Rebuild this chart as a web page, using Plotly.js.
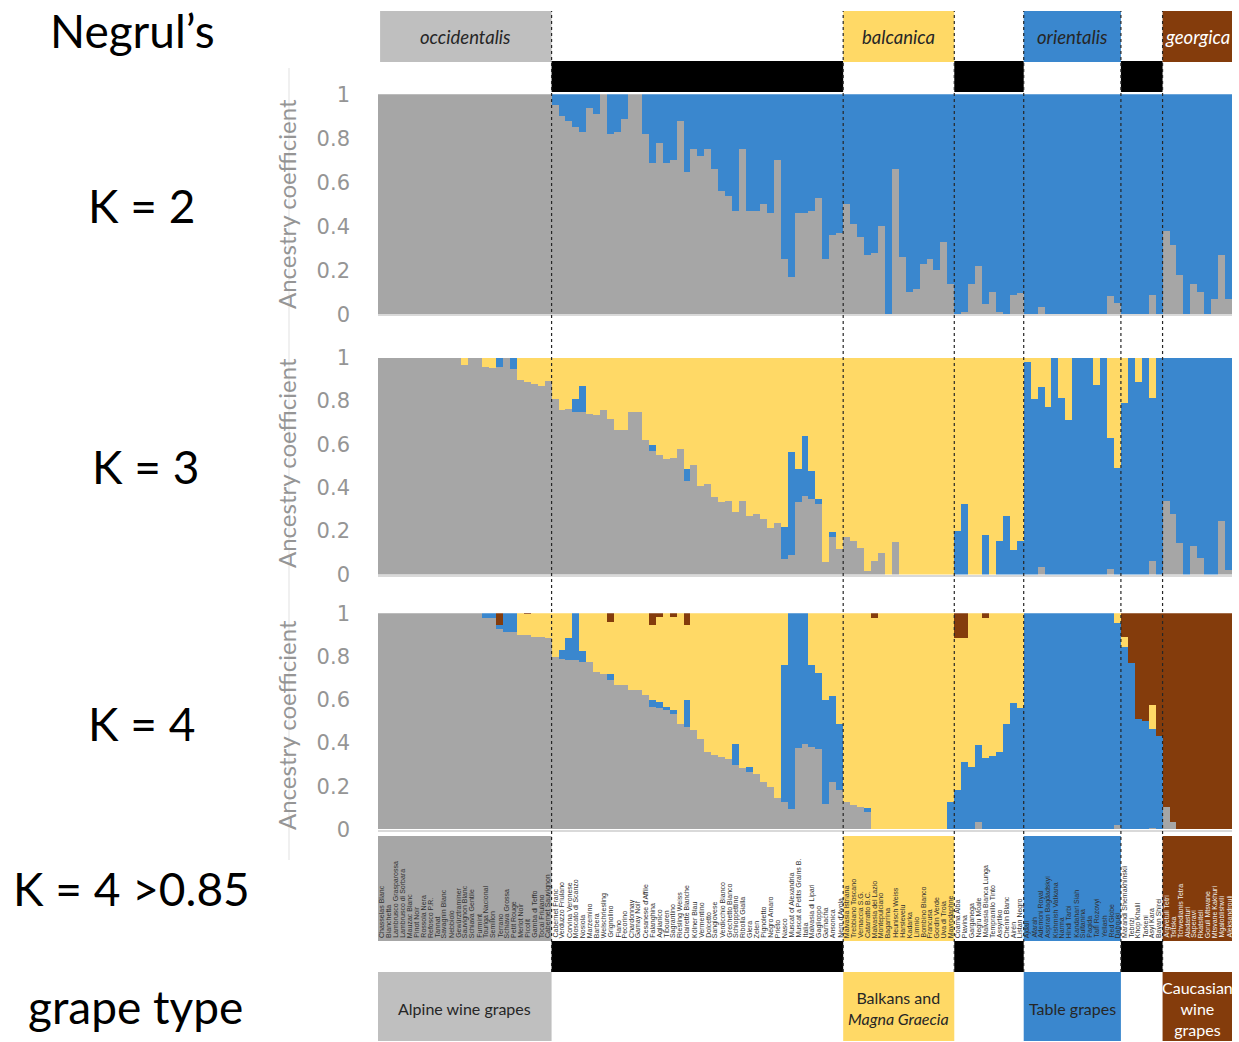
<!DOCTYPE html>
<html>
<head>
<meta charset="utf-8">
<script src="https://cdn.plot.ly/plotly-3.0.1.min.js"></script>
<style>
  html, body { margin: 0; padding: 0; background: #ffffff; }
  #chart { width: 1239px; height: 1042px; }
</style>
</head>
<body>
<div id="chart"></div>
<script>
// ---- Accessions, in plotting order ----
const samples = [
  // occidentalis
  "Chasselas Blanc","Bianchetta","Lambrusco Grasparossa","Lambrusco di Sorbara","Mauzac Blanc",
  "Pinot Noir","Rossola Nera","Refosco P.R.","Tannat","Savagnin Blanc","Nebbiolo","Gewürztraminer",
  "Sauvignon Blanc","Schiava Gentile","Furmint","Touriga Nacional","Semillon","Terrano",
  "Schiava Grossa","Petit Rouge","Merlot Noir","Picolit","Gamba di Teffo","Tocai Friulano",
  "Cabernet Sauvignon",
  // unassigned
  "Cabernet Franc","Verduzzo Friulano","Corvina Veronese","Moscato di Scanzo","Nosiola","Marzemino",
  "Barbera","Welschriesling","Grignolino","Fiano","Pecorino","Chardonnay","Gamay Noir",
  "Cesanese d'Affile","Falanghina","Aglianico","Tibouren","Sagrantino","Riesling Weiss",
  "Clairette Blanche","Kölner Blau","Vermentino","Dolcetto","Sangiovese","Verdicchio Bianco",
  "Grechetto Bianco","Schioppettino","Ribolla Gialla","Glera","Zelen","Pignoletto","Negro Amaro",
  "Prieto","Nasco","Muscat of Alexandria","Muscat a Petits Grains B.","Italia","Malvasia di Lipari",
  "Gaglioppo","Garnacha","Ansonica","Nero d'Avola",
  // balcanica
  "Malvasia Istriana","Trebbiano Toscano","Vernaccia S.G.","Catarratto B.C.","Malvasia del Lazio",
  "Montepulciano","Bagarrina","Heunisch Weiss","Harslevelu","Kadarka","Limnio","Bombino Bianco",
  "Francusa","Gordin Verde","Uva di Troia","Mavrodaphne",
  // unassigned
  "Coarna Alba","Plavina","Garganega","Negru Moale","Malvasia Bianca Lunga","Tempranillo Tinto",
  "Assyrtiko","Chenin Blanc","Airén","Listan Negro",
  // orientalis
  "Ajdali","Afarah","Ademoni Royal","Aspiran Bagdadskyi","Kishmish Vatkana","Narma","Hindi Tarbi",
  "Kandahari Siah","Sultanina","Pagida","Taifi Rozovyi","Yellash","Red Globe","Dabouki",
  // unassigned
  "Marandi Shemakhinskii","Tebrizi","Khop Khalil","Tarkeni","Asyl Kara","Bayan Shirei",
  // georgica
  "Argvetuli Tetri","Tsitska","Tchvedianis Tetra","Aladasturi","Saperavi","Rkatsiteli",
  "Goruli Mtsvane","Mtsvane Kakhuri","Mgaloblishvili","Aleksandrouli"
];

// Negrul's groups (null = not assigned) and the grape type under each
const groupNames = ["occidentalis", null, "balcanica", null, "orientalis", null, "georgica"];
const groupSizes = [25, 42, 16, 10, 14, 6, 10];
const grapeTypes = ["Alpine wine grapes", null, "Balkans and<br><i>Magna Graecia</i>", null,
                    "Table grapes", null, "Caucasian<br>wine<br>grapes"];

// ---- Ancestry coefficients ----
// K = 2 : grey cluster (blue takes the rest)
const k2Gray = [
  1,1,1,1,1,1,1,1,1,1,1,1,1,1,1,1,1,1,1,1,1,1,1,1,1,
  0.95,0.90,0.88,0.85,0.83,0.94,0.91,1.00,0.82,0.83,0.89,1.00,1.00,0.82,0.69,0.78,0.69,0.70,
  0.88,0.645,0.75,0.72,0.75,0.66,0.56,0.54,0.47,0.75,0.47,0.47,0.50,0.46,0.70,0.25,0.17,0.46,
  0.46,0.47,0.53,0.25,0.36,0.37,
  0.50,0.41,0.35,0.27,0.28,0.40,0.00,0.66,0.26,0.10,0.115,0.23,0.25,0.20,0.33,0.14,
  0.00,0.012,0.14,0.22,0.045,0.10,0.012,0.00,0.09,0.095,
  0,0,0.035,0,0,0,0,0,0,0,0,0,0.083,0.05,
  0,0,0,0,0.09,0,
  0.38,0.315,0.18,0,0.14,0.10,0,0.07,0.27,0.07
];

// K = 3 : grey and blue clusters (yellow takes the rest)
const k3Gray = [
  1,1,1,1,1,1,1,1,1,1,1,1,0.965,1,1,0.957,0.95,0.957,1,0.945,0.895,0.888,0.88,0.87,0.89,
  0.81,0.76,0.765,0.75,0.75,0.74,0.734,0.757,0.718,0.668,0.665,0.75,0.75,0.62,0.57,0.55,0.534,
  0.538,0.577,0.43,0.503,0.406,0.418,0.357,0.334,0.337,0.29,0.34,0.27,0.277,0.254,0.215,0.238,
  0.072,0.088,0.334,0.36,0.349,0.323,0.057,0.172,0.118,
  0.175,0.154,0.123,0.015,0.06,0.10,0,0.15,0,0,0,0,0,0,0,0,
  0,0,0,0,0,0,0,0,0,0,
  0,0,0.034,0,0,0,0,0,0,0,0,0,0.026,0,
  0,0,0,0,0.06,0,
  0.34,0.28,0.145,0,0.13,0.077,0,0,0.245,0.02
];
const k3Blue = [
  0,0,0,0,0,0,0,0,0,0,0,0,0,0,0,0,0,0.043,0,0.055,0,0,0,0,0,
  0,0,0,0.06,0.12,0,0,0,0,0,0,0,0,0,0.026,0,0,0,0,0.058,0,0,0,0,0,0,0,0,0,0,0,0,0,
  0.146,0.477,0.154,0.277,0.128,0.026,0,0.023,0,
  0,0,0,0,0,0,0,0,0,0,0,0,0,0,0,0,
  0.2,0.326,0,0,0.183,0,0.154,0.27,0.115,0.154,
  0.98,0.81,0.831,0.77,1,0.814,0.71,1,1,1,0.872,1,0.604,0.49,
  0.79,1,0.885,1,0.754,1,
  0.66,0.72,0.855,1,0.87,0.923,1,1,0.755,0.98
];

// K = 4 : grey, blue and brown clusters (yellow takes the rest)
const k4Gray = [
  1,1,1,1,1,1,1,1,1,1,1,1,1,1,1,0.977,0.977,0.926,0.915,0.915,0.9,0.9,0.89,0.89,0.884,
  0.80,0.79,0.784,0.784,0.776,0.776,0.73,0.72,0.69,0.668,0.668,0.645,0.645,0.62,0.567,0.56,
  0.552,0.536,0.49,0.474,0.459,0.42,0.359,0.346,0.335,0.325,0.297,0.284,0.266,0.258,0.22,0.196,
  0.145,0.127,0.096,0.377,0.397,0.382,0.374,0.119,0.219,0.181,
  0.127,0.111,0.104,0.08,0,0,0,0,0,0,0,0,0,0,0,0,
  0,0,0,0.034,0,0,0,0,0,0,
  0,0,0,0,0,0,0,0,0,0,0,0,0,0.02,
  0,0,0,0,0.006,0,
  0.104,0.034,0,0,0,0,0,0,0,0
];
const k4Blue = [
  0,0,0,0,0,0,0,0,0,0,0,0,0,0,0,0.023,0.023,0.02,0.085,0.085,0,0,0,0,0,
  0,0.04,0.1,0.216,0.05,0,0,0,0.03,0,0,0,0,0,0.03,0.03,0.015,0.015,0,0.124,0,0,0,0,0,0,0.1,0,
  0.023,0,0,0,0,0.634,0.904,0.623,0.603,0.379,0.348,0.479,0.399,0.309,
  0,0,0,0.019,0,0,0,0,0,0,0,0,0,0,0,0.127,
  0.181,0.312,0.289,0.356,0.331,0.34,0.359,0.49,0.583,0.56,
  1,1,1,1,1,1,1,1,1,1,1,1,1,0.934,
  0.846,0.768,0.513,0.5,0.458,0.431,
  0,0,0,0,0,0,0,0,0,0
];
const k4Brown = [
  0,0,0,0,0,0,0,0,0,0,0,0,0,0,0,0,0,0.054,0,0,0,0.005,0,0,0,
  0,0,0,0,0,0,0,0,0.04,0,0,0,0,0,0.054,0.015,0,0.015,0,0.054,0,0,0,0,0,0,0,0,0,0,0,0,0,
  0,0,0,0,0,0,0,0,0,
  0,0,0,0,0.023,0,0,0,0,0,0,0,0,0,0,0,
  0.116,0.116,0,0,0.023,0,0,0,0,0,
  0,0,0,0,0,0,0,0,0,0,0,0,0,0,
  0.108,0.232,0.487,0.5,0.425,0.569,
  0.896,0.966,1,1,1,1,1,1,1,1
];

// ---- styling ----
const C = { gray: "#A6A6A6", blue: "#3A87CE", yellow: "#FFD966", brown: "#843C0C",
            boxGray: "#BFBFBF", axisText: "#959595" };
const W = 1239, H = 1042;
const py = p => 1 - p / H;           // pixel row -> paper y
const pxX = p => p / W;              // pixel column -> paper x
const FONT = "Lato, 'Open Sans', sans-serif";

const rest = (...parts) => parts[0].map((_, i) =>
  Math.max(0, +(1 - parts.reduce((s, a) => s + a[i], 0)).toFixed(4)));

const k2Blue = rest(k2Gray);
const k3Yellow = rest(k3Gray, k3Blue);
const k4Yellow = rest(k4Gray, k4Blue, k4Brown);

const idx = samples.map((_, i) => i);
const bar = (y, color, xa, ya) => ({
  type: "bar", x: idx, y: y, xaxis: xa, yaxis: ya,
  marker: { color: color, line: { width: 0 } }, hoverinfo: "skip"
});

const data = [
  bar(k2Gray, C.gray, "x", "y"), bar(k2Blue, C.blue, "x", "y"),
  bar(k3Gray, C.gray, "x2", "y2"), bar(k3Blue, C.blue, "x2", "y2"), bar(k3Yellow, C.yellow, "x2", "y2"),
  bar(k4Gray, C.gray, "x3", "y3"), bar(k4Blue, C.blue, "x3", "y3"),
  bar(k4Yellow, C.yellow, "x3", "y3"), bar(k4Brown, C.brown, "x3", "y3")
];

// ---- axes ----
const xDomain = [pxX(378), pxX(1232)];
const xAxis = anchor => ({
  domain: xDomain, range: [-0.5, samples.length - 0.5], anchor: anchor,
  showticklabels: false, ticks: "", showgrid: false, zeroline: false,
  showline: true, linecolor: "#D9D9D9", linewidth: 2, fixedrange: true
});
const yAxis = (top, bottom, anchor) => ({
  domain: [py(bottom), py(top)], range: [0, 1], anchor: anchor,
  tickvals: [0, 0.2, 0.4, 0.6, 0.8, 1], ticktext: ["0", "0.2", "0.4", "0.6", "0.8", "1"],
  tickfont: { family: "'DejaVu Sans', sans-serif", size: 21, color: C.axisText },
  ticks: "", ticklabelstandoff: 27, showgrid: false, zeroline: false, showline: false,
  fixedrange: true
});

// ---- group geometry (in bar units) ----
const bounds = [];
let acc = 0;
groupSizes.forEach(n => { bounds.push([acc - 0.5, acc + n - 0.5]); acc += n; });

const shapes = [];
const annotations = [];
const rect = (x0, x1, y0, y1, color) => shapes.push({
  type: "rect", xref: "x3", yref: "paper", x0: x0, x1: x1, y0: py(y1), y1: py(y0),
  fillcolor: color, line: { width: 0 }, layer: "above"
});
const label = (xref, x, y, text, size, color, extra) => annotations.push(Object.assign({
  xref: xref, yref: "paper", x: x, y: py(y), xanchor: "center", yanchor: "middle",
  showarrow: false, text: text, font: { family: FONT, size: size, color: color }
}, extra || {}));

const fillFor = g => [C.boxGray, null, C.yellow, null, C.blue, null, C.brown][g];
const stripFor = g => [C.gray, null, C.yellow, null, C.blue, null, C.brown][g];

groupNames.forEach((name, g) => {
  const [a, b] = bounds[g];
  if (name === null) {
    rect(a, b, 61, 92, "#000000");      // bar above the panels
    rect(a, b, 941, 972, "#000000");    // bar under the name strip
  } else {
    const ink = g === 6 ? "#FFFFFF" : "#262626";
    rect(g === 0 ? a + 0.3 : a, b, 11, 62, fillFor(g));
    rect(a, b, 836, 941, stripFor(g));
    rect(a, b, 972, 1041, fillFor(g));
    label("x3", (a + b) / 2, 37, "<i>" + name + "</i>", 18.5, ink);
    label("x3", (a + b) / 2, 1008, grapeTypes[g], 16, ink);
  }
});

// dashed group separators
bounds.slice(0, -1).forEach(([, b]) => shapes.push({
  type: "line", xref: "x3", yref: "paper", x0: b, x1: b, y0: py(972), y1: py(11),
  line: { color: "#262626", width: 1.2, dash: "3px,3px" }, layer: "above"
}));

// faint frame line left of the panels
shapes.push({ type: "line", xref: "paper", yref: "paper", x0: pxX(289), x1: pxX(289),
  y0: py(860), y1: py(68), line: { color: "#F0F0F0", width: 2 }, layer: "below" });

// accession names in the strip
let gi = 0, cnt = 0;
samples.forEach((s, i) => {
  while (cnt >= groupSizes[gi]) { gi++; cnt = 0; }
  cnt++;
  annotations.push({
    xref: "x3", yref: "paper", x: i, y: py(939), xanchor: "center", yanchor: "bottom",
    textangle: -90, showarrow: false, text: s, borderpad: 0,
    font: { family: "'Liberation Sans', Arial, sans-serif", size: 7,
            color: gi === 6 ? "#F2F2F2" : "#303030" }
  });
});

// axis titles
[204, 463, 725].forEach(yc => label("paper", pxX(286), yc, "Ancestry coefficient", 24,
  C.axisText, { textangle: -90 }));

// row labels on the left
[["Negrul’s", 132, 30], ["K = 2", 141, 206], ["K = 3", 145, 466], ["K = 4", 141, 723],
 ["K = 4 >0.85", 131, 888], ["grape type", 135, 1006]].forEach(([t, x, y]) =>
  label("paper", pxX(x), y, t, 46, "#000000"));

const layout = {
  width: W, height: H, margin: { l: 0, r: 0, t: 0, b: 0 },
  paper_bgcolor: "#FFFFFF", plot_bgcolor: "rgba(0,0,0,0)",
  barmode: "stack", bargap: 0, showlegend: false,
  xaxis: xAxis("y"), xaxis2: xAxis("y2"), xaxis3: xAxis("y3"),
  yaxis: yAxis(94.3, 314.3, "x"), yaxis2: yAxis(357.5, 574.5, "x2"), yaxis3: yAxis(613.3, 829.5, "x3"),
  shapes: shapes, annotations: annotations
};

Plotly.newPlot("chart", data, layout, { staticPlot: true, displayModeBar: false });
</script>
</body>
</html>
